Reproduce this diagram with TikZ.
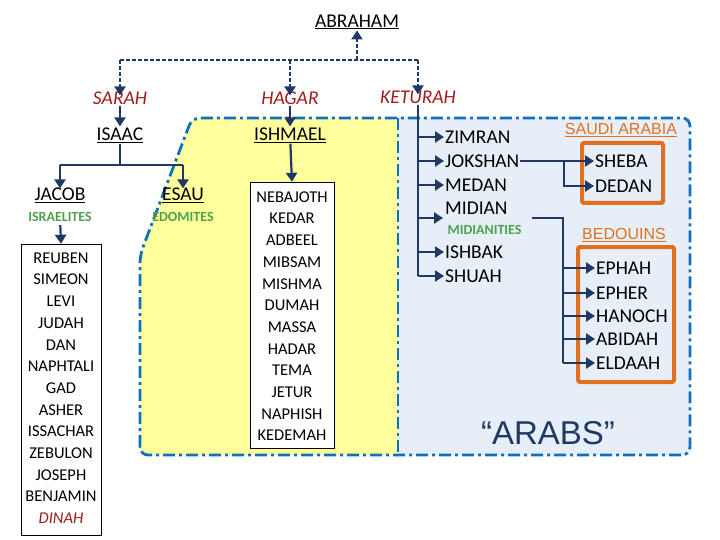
\documentclass[tikz,border=0pt]{standalone}
\usepackage{fontspec}
\setmainfont{Carlito}
\newfontfamily\arialfont{Liberation Sans}
\usetikzlibrary{arrows.meta,positioning}
\definecolor{navy}{HTML}{1F3864}
\definecolor{dashblue}{HTML}{1070C0}
\definecolor{paleyellow}{HTML}{FFFF9C}
\definecolor{paleblue}{HTML}{E6EEF8}
\definecolor{tribeorange}{HTML}{E07020}
\definecolor{tribegreen}{HTML}{4EA24E}
\definecolor{wifered}{HTML}{A01C1C}
\tikzset{
  person/.style={font=\fontsize{19.5}{22}\selectfont, inner sep=1pt},
  wife/.style={person, text=wifered, font=\fontsize{19.5}{22}\selectfont\itshape},
  people/.style={font=\fontsize{14}{16}\selectfont\bfseries, text=tribegreen},
  member/.style={font=\fontsize{16.5}{18}\selectfont},
  region/.style={font=\fontsize{16}{20}\selectfont\arialfont, text=tribeorange},
  line/.style={navy, line width=2.2pt},
  arr/.style={line, -{Triangle[length=9pt,width=11pt]}},
  border/.style={dashblue, line width=2.8pt, dash pattern=on 12pt off 4pt on 3pt off 4pt},
  orangebox/.style={tribeorange, line width=4pt, rounded corners=2pt}
}
\newcommand{\ul}[1]{\underline{#1}}
\begin{document}
\begin{tikzpicture}[x=1pt,y=-1pt]
\useasboundingbox (0,0) rectangle (720,540);
% regions
\fill[paleblue] (398,118) rectangle (690,455);
\fill[paleyellow, rounded corners=8pt] (140,455) -- (140,255) -- (192,118) -- (398,118) -- (398,455) -- cycle;
\draw[border, rounded corners=8pt] (140,455) -- (140,255) -- (192,118) -- (690,118) -- (690,455) -- cycle;
\draw[border] (398,118) -- (398,455);

% names
\node[person] (abraham) at (357,22) {\ul{ABRAHAM}};
\node[wife] (sarah) at (120,98) {SARAH};
\node[wife] (hagar) at (290,98) {HAGAR};
\node[wife] (keturah) at (418,97) {KETURAH};
\node[person] (isaac) at (120,135) {\ul{ISAAC}};
\node[person] (ishmael) at (290,135) {\ul{ISHMAEL}};
\node[person] (jacob) at (60,195) {\ul{JACOB}};
\node[people] (israelites) at (60,217) {ISRAELITES};
\node[person] (esau) at (183,195) {\ul{ESAU}};
\node[people] (edomites) at (183,217) {EDOMITES};

% abraham to wives
\coordinate (top) at (357,60);
\draw[line, dash pattern=on 4pt off 2pt] (120,60) -- (418,60);
\draw[arr, dash pattern=on 4pt off 2pt] (top) -- (abraham.south);
\foreach \w in {sarah,hagar,keturah}
  \draw[arr, dash pattern=on 4pt off 2pt] (\w |- top) -- ([yshift=-5pt]\w.north);

% sons
\draw[arr] (sarah) -- (isaac);
\draw[arr] (hagar) -- (ishmael);
\coordinate (split) at (120,165);
\draw[line] (isaac.south) -- (split);
\draw[line] (60,165) -- (183,165);
\draw[arr] (60,165) -- ([yshift=-2pt]jacob.north);
\draw[arr] (183,165) -- ([yshift=-2pt]esau.north);

% tribes of israel
\node[draw, fill=white, minimum width=80pt, minimum height=291pt, inner sep=0pt] (tribes) at (61,389.5) {};
\foreach \n [count=\i from 0] in {REUBEN,SIMEON,LEVI,JUDAH,DAN,NAPHTALI,GAD,ASHER,ISSACHAR,ZEBULON,JOSEPH,BENJAMIN}
  \node[member] at (61,258+21.7*\i) {\n};
\node[member, font=\fontsize{16.5}{18}\selectfont\itshape, text=wifered] at (61,518) {DINAH};
\draw[arr] (israelites) -- (tribes.north);

% sons of ishmael
\node[draw, fill=white, minimum width=84pt, minimum height=266pt, inner sep=0pt] (ishsons) at (292,315) {};
\foreach \n [count=\i from 0] in {NEBAJOTH,KEDAR,ADBEEL,MIBSAM,MISHMA,DUMAH,MASSA,HADAR,TEMA,JETUR,NAPHISH,KEDEMAH}
  \node[member] at (292,197+21.7*\i) {\n};
\draw[arr] (ishmael) -- (ishsons.north);

% sons of keturah
\draw[line] (keturah.south) -- (418,276);
\foreach \n/\t/\y in {zimran/ZIMRAN/137,jokshan/JOKSHAN/161,medan/MEDAN/185,midian/MIDIAN/208,ishbak/ISHBAK/252,shuah/SHUAH/276}
  \node[person, anchor=west] (\n) at (444,\y) {\t};
\node[people, anchor=west] (midianites) at (444,230) {MIDIANITIES};
\foreach \n in {zimran,jokshan,medan,ishbak,shuah}
  \draw[arr] (keturah |- \n) -- (\n.west);
\draw[arr] (418,218) -- (443,218);

% saudi arabia
\node[region] (saudi) at (621,130) {\ul{SAUDI ARABIA}};
\draw[orangebox] (582,143) rectangle (663,203);
\node[person, anchor=west] (sheba) at (594,161) {SHEBA};
\node[person, anchor=west] (dedan) at (594,186) {DEDAN};
\coordinate (jsplit) at (564,161);
\draw[line] (jokshan.east) -- (jsplit);
\draw[arr] (jsplit) -- (sheba.west);
\draw[arr] (jsplit) |- (dedan.west);

% bedouins
\node[region] (bedouins) at (624,235) {\ul{BEDOUINS}};
\draw[orangebox] (578,247) rectangle (674,382);
\foreach \n/\y in {EPHAH/268,EPHER/293,HANOCH/316,ABIDAH/339,ELDAAH/363}
  \node[person, anchor=west] (\n) at (595,\y) {\n};
\coordinate (msplit) at (563,218);
\draw[line] (532,218) -- (msplit) -- (563,363);
\foreach \n in {EPHAH,EPHER,HANOCH,ABIDAH,ELDAAH}
  \draw[arr] (msplit |- \n) -- (\n.west);

\node[font=\fontsize{33}{38}\selectfont\arialfont, text=navy] (arabs) at (548,433) {“ARABS”};
\end{tikzpicture}
\end{document}
